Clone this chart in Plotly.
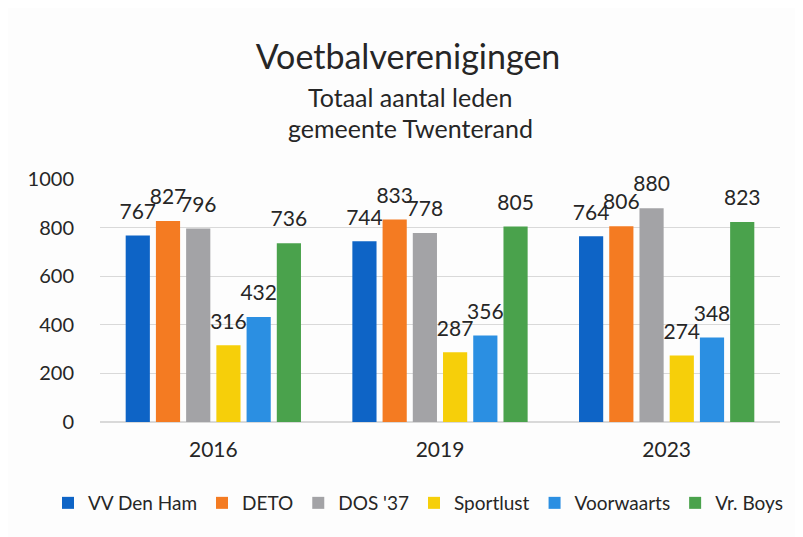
import plotly.graph_objects as go

years = ["2016", "2019", "2023"]
clubs = ["VV Den Ham", "DETO", "DOS '37", "Sportlust", "Voorwaarts", "Vr. Boys"]
vv_den_ham = [767, 744, 764]
deto = [827, 833, 806]
dos37 = [796, 778, 880]
sportlust = [316, 287, 274]
voorwaarts = [432, 356, 348]
vr_boys = [736, 805, 823]
series = [vv_den_ham, deto, dos37, sportlust, voorwaarts, vr_boys]
colors = ["#0E64C6", "#F47B22", "#A3A3A6", "#F6CF0A", "#2B8FE2", "#4AA24C"]
y_ticks = [0, 200, 400, 600, 800, 1000]

W, H = 795, 529  # page body has an 8px margin
L, R, T, B = 92, 23, 171, 115
PW, PH = W - L - R, H - T - B

FONT = "Lato, 'Open Sans', sans-serif"
fig = go.Figure()
for name, vals, col in zip(clubs, series, colors):
    fig.add_trace(go.Bar(
        name=name, x=years, y=vals, marker=dict(color=col, line=dict(width=0)),
        text=[f"<span style='font-size:21px'>{v}</span><br>&nbsp;" for v in vals],
        textposition="outside", constraintext="none",
        cliponaxis=False, textfont=dict(size=9, color="#262626", family=FONT),
    ))

fig.update_layout(
    width=W, height=H,
    margin=dict(l=L, r=R, t=T, b=B, autoexpand=False),
    paper_bgcolor="#FDFDFD", plot_bgcolor="#FDFDFD",
    barmode="group", bargap=0.2, bargroupgap=0.2,
    font=dict(family=FONT, color="#262626"),
    title=dict(text="Voetbalverenigingen", x=400 / W, xref="container", xanchor="center",
               y=1 - 49 / H, yref="container", yanchor="middle",
               font=dict(size=34, color="#262626", family=FONT)),
    showlegend=True,
    legend=dict(orientation="h", xref="paper", x=(40 - L) / PW, xanchor="left",
                yref="paper", y=(414 - 495) / PH, yanchor="middle",
                font=dict(size=19, color="#262626", family=FONT), itemwidth=30,
                traceorder="normal", itemclick=False),
    yaxis=dict(range=[0, 1000], tickvals=y_ticks, showgrid=True, gridcolor="#D9D9D9",
               gridwidth=1, zeroline=True, zerolinecolor="#D9D9D9", showline=False,
               tickfont=dict(size=20, color="#262626"), ticks="outside", ticklen=21,
               tickcolor="rgba(0,0,0,0)", automargin=False),
    xaxis=dict(showline=False, tickfont=dict(size=21, color="#262626"), ticks="outside",
               ticklen=9, tickcolor="rgba(0,0,0,0)", automargin=False),
)
fig.add_annotation(text="Totaal aantal leden", xref="paper", yref="paper",
                   x=(402 - L) / PW, y=(414 - 89) / PH, showarrow=False,
                   font=dict(size=25, color="#262626"), xanchor="center", yanchor="middle")
fig.add_annotation(text="gemeente Twenterand", xref="paper", yref="paper",
                   x=(402 - L) / PW, y=(414 - 120) / PH, showarrow=False,
                   font=dict(size=25, color="#262626"), xanchor="center", yanchor="middle")
fig.write_html("out.html")
